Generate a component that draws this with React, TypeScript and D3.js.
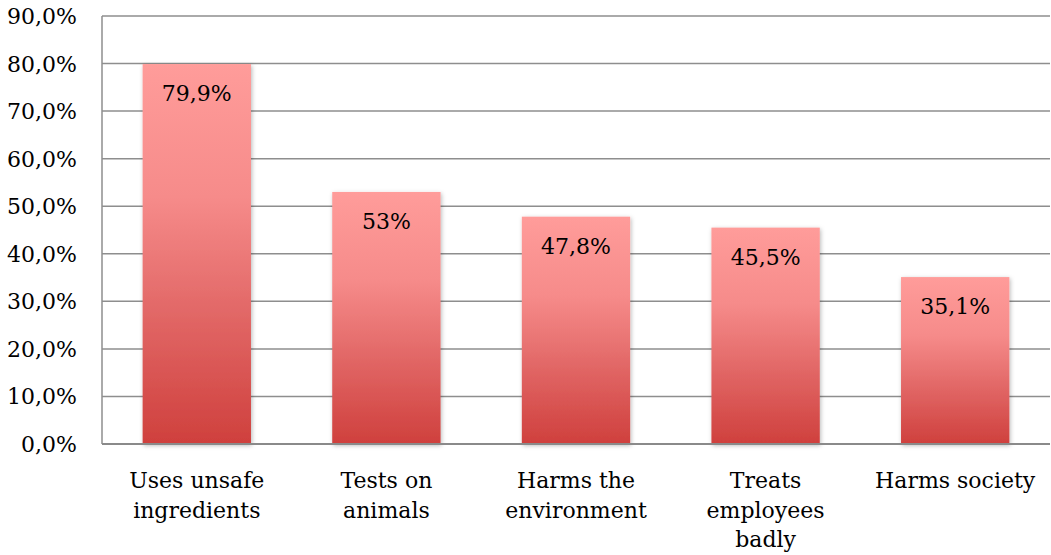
import React from "react";
import * as d3 from "d3";

const categories: string[][] = [
  ["Uses unsafe", "ingredients"],
  ["Tests on", "animals"],
  ["Harms the", "environment"],
  ["Treats", "employees", "badly"],
  ["Harms society"],
];
const values: number[] = [79.9, 53, 47.8, 45.5, 35.1];
const valueLabels: string[] = ["79,9%", "53%", "47,8%", "45,5%", "35,1%"];
const yTicks: number[] = [0, 10, 20, 30, 40, 50, 60, 70, 80, 90];
const yTickLabels: string[] = ["0,0%", "10,0%", "20,0%", "30,0%", "40,0%", "50,0%", "60,0%", "70,0%", "80,0%", "90,0%"];

const W = 1051;
const H = 555;
const left = 102;
const right = 1050;
const top = 16;
const bottom = 444;
const FONT = "'DejaVu Serif', serif";

export default function App() {
  const x = d3
    .scaleBand<number>()
    .domain(values.map((_, i) => i))
    .range([left, right])
    .paddingInner(0.75 / 1.75)
    .paddingOuter(0.75 / 1.75 / 2);
  const y = d3.scaleLinear().domain([0, 90]).range([bottom, top]);

  return (
    <svg
      width={W}
      height={H}
      style={{ position: "absolute", left: 0, top: 0, display: "block", background: "#fff" }}
    >
      <defs>
        <linearGradient id="barGrad" x1="0" y1="0" x2="0" y2="1">
          <stop offset="0" stopColor="#FF9C9A" />
          <stop offset="0.35" stopColor="#F68B8A" />
          <stop offset="0.65" stopColor="#E26867" />
          <stop offset="1" stopColor="#CF403D" />
        </linearGradient>
        <filter id="shadow" x="-20%" y="-5%" width="140%" height="115%">
          <feDropShadow dx="1" dy="1.5" stdDeviation="2" floodColor="#000" floodOpacity="0.28" />
        </filter>
      </defs>
      {yTicks.map((t, i) => (
        <g key={t}>
          {t > 0 && (
            <line x1={left} x2={right} y1={y(t)} y2={y(t)} stroke="#8E8E8E" strokeWidth={1.5} />
          )}
          <text
            x={77}
            y={y(t) + 8}
            textAnchor="end"
            fontFamily={FONT}
            fontSize={22}
            fill="#000"
          >
            {yTickLabels[i]}
          </text>
        </g>
      ))}
      <line x1={left} x2={left} y1={top} y2={bottom} stroke="#8E8E8E" strokeWidth={1.5} />
      {values.map((v, i) => (
        <rect
          key={i}
          x={x(i)!}
          y={y(v)}
          width={x.bandwidth()}
          height={bottom - y(v)}
          fill="url(#barGrad)"
          filter="url(#shadow)"
        />
      ))}
      <line x1={left} x2={right} y1={bottom} y2={bottom} stroke="#8A8A8A" strokeWidth={2} />
      {values.map((v, i) => (
        <text
          key={i}
          x={x(i)! + x.bandwidth() / 2}
          y={y(v) + 37}
          textAnchor="middle"
          fontFamily={FONT}
          fontSize={22}
          fill="#000"
        >
          {valueLabels[i]}
        </text>
      ))}
      {categories.map((lines, i) => (
        <text
          key={i}
          x={x(i)! + x.bandwidth() / 2}
          textAnchor="middle"
          fontFamily={FONT}
          fontSize={22}
          fill="#000"
        >
          {lines.map((l, j) => (
            <tspan key={j} x={x(i)! + x.bandwidth() / 2} y={488 + j * 29.5}>
              {l}
            </tspan>
          ))}
        </text>
      ))}
    </svg>
  );
}
